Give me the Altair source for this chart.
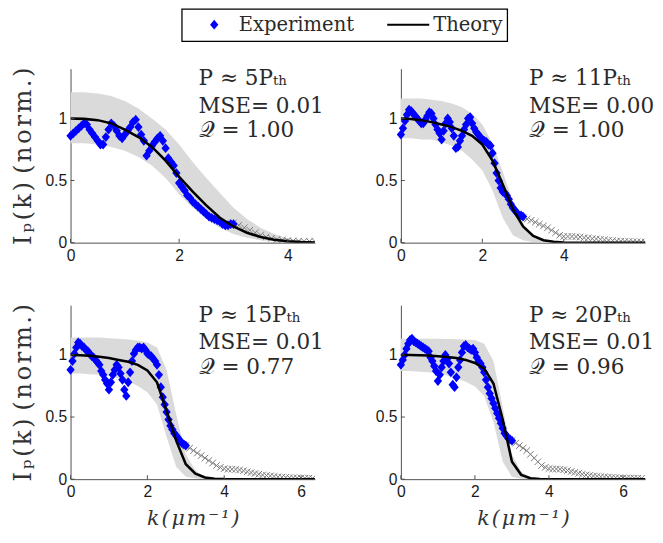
import altair as alt
import numpy as np
import pandas as pd

# ---------------- data ----------------
# Experiment (blue diamonds), k = 0 .. 3.0 step 0.05
TL_exp = [0.86, 0.88, 0.90, 0.92, 0.94, 0.96, 0.95, 0.91, 0.88, 0.85, 0.82, 0.79, 0.79, 0.85, 0.91, 0.96,
          0.94, 0.90, 0.86, 0.84, 0.87, 0.90, 0.93, 0.97, 0.99, 0.93, 0.87, 0.82, 0.70, 0.74, 0.78, 0.81,
          0.84, 0.86, 0.82, 0.76, 0.68, 0.65, 0.62, 0.56, 0.48, 0.45, 0.42, 0.38, 0.36, 0.33, 0.31, 0.29,
          0.27, 0.25, 0.23, 0.21, 0.20, 0.19, 0.18, 0.17, 0.15, 0.14, 0.14, 0.15, 0.15]
TR_exp = [0.87, 0.92, 0.98, 1.03, 1.07, 1.06, 1.04, 1.02, 1.00, 0.98, 0.96, 0.96, 0.99, 1.02, 1.05, 1.04,
          1.00, 0.95, 0.91, 0.88, 0.83, 0.90, 0.96, 1.00, 0.97, 0.92, 0.86, 0.76, 0.77, 0.82, 0.86, 0.91,
          0.95, 1.00, 1.01, 0.96, 0.92, 0.89, 0.87, 0.85, 0.83, 0.82, 0.81, 0.79, 0.78, 0.72, 0.64, 0.56,
          0.50, 0.44, 0.41, 0.40, 0.38, 0.35, 0.31, 0.28, 0.26, 0.24, 0.22, 0.22, 0.21]
BL_exp = [0.88, 0.95, 1.01, 1.06, 1.10, 1.09, 1.07, 1.06, 1.04, 1.03, 1.01, 0.99, 0.98, 0.96, 0.94, 0.92,
          0.87, 0.84, 0.80, 0.77, 0.72, 0.78, 0.84, 0.88, 0.92, 0.90, 0.85, 0.80, 0.72, 0.67, 0.78, 0.86,
          0.95, 1.01, 1.04, 1.06, 1.06, 1.05, 1.06, 1.04, 1.01, 1.00, 0.99, 0.97, 0.95, 0.92, 0.84, 0.74,
          0.66, 0.60, 0.54, 0.48, 0.43, 0.40, 0.37, 0.35, 0.33, 0.31, 0.29, 0.28, 0.27]
BR_exp = [0.92, 0.96, 1.00, 1.05, 1.09, 1.12, 1.13, 1.11, 1.10, 1.09, 1.08, 1.07, 1.06, 1.05, 1.04, 1.03,
          0.98, 0.95, 0.91, 0.87, 0.79, 0.84, 0.90, 0.95, 1.00, 0.97, 0.93, 0.86, 0.76, 0.74, 0.82, 0.90,
          0.96, 1.02, 1.07, 1.08, 1.06, 1.05, 1.04, 1.05, 1.02, 0.98, 0.95, 0.93, 0.90, 0.86, 0.80, 0.74,
          0.69, 0.65, 0.61, 0.57, 0.53, 0.49, 0.45, 0.41, 0.37, 0.35, 0.33, 0.32, 0.31]

# Experiment beyond fit range (grey crosses), k = 3.0 .. step 0.1
TL_tail = [0.16, 0.14, 0.12, 0.10, 0.08, 0.06, 0.045, 0.035, 0.025, 0.02, 0.016, 0.014, 0.012, 0.011, 0.01, 0.01]
TR_tail = [0.20, 0.19, 0.18, 0.165, 0.15, 0.135, 0.12, 0.10, 0.08, 0.06, 0.05, 0.05, 0.05, 0.048, 0.045,
           0.04, 0.037, 0.033, 0.03, 0.027, 0.023, 0.02, 0.017, 0.014, 0.012, 0.01, 0.009, 0.008, 0.007,
           0.006, 0.005]
BL_tail = [0.27, 0.25, 0.23, 0.21, 0.19, 0.17, 0.15, 0.13, 0.11, 0.095, 0.085, 0.08, 0.08, 0.078, 0.074,
           0.068, 0.06, 0.053, 0.046, 0.04, 0.034, 0.03, 0.026, 0.022, 0.019, 0.016, 0.014, 0.012, 0.011,
           0.01, 0.009, 0.008, 0.008, 0.007]
BR_tail = [0.31, 0.29, 0.27, 0.25, 0.23, 0.20, 0.17, 0.14, 0.11, 0.095, 0.085, 0.082, 0.082, 0.08, 0.076,
           0.07, 0.062, 0.055, 0.047, 0.04, 0.034, 0.03, 0.026, 0.023, 0.02, 0.018, 0.016, 0.014, 0.012,
           0.011, 0.01, 0.009, 0.009, 0.008, 0.008, 0.007]

# Theory curve, k = 0 .. step 0.25
TL_th = [1.0, 0.996, 0.986, 0.96, 0.91, 0.85, 0.77, 0.66, 0.53, 0.41, 0.30, 0.20, 0.13, 0.08, 0.045,
         0.024, 0.011, 0.005, 0.002]
TR_th = [1.0, 0.995, 0.985, 0.97, 0.95, 0.93, 0.90, 0.86, 0.79, 0.66, 0.47, 0.27, 0.13, 0.055, 0.02,
         0.007, 0.002, 0, 0, 0, 0, 0, 0, 0, 0]
BL_th = [1.0, 0.998, 0.993, 0.985, 0.975, 0.96, 0.945, 0.92, 0.875, 0.78, 0.55, 0.31, 0.12, 0.045, 0.014,
         0.004, 0.001, 0, 0, 0, 0, 0, 0, 0, 0, 0, 0]
BR_th = [1.0, 1.0, 0.998, 0.995, 0.99, 0.983, 0.975, 0.96, 0.935, 0.89, 0.77, 0.48, 0.14, 0.035, 0.008,
         0.002, 0, 0, 0, 0, 0, 0, 0, 0, 0, 0, 0, 0]

# Uncertainty band, k = 0 .. step 0.25
TL_hi = [1.21, 1.21, 1.20, 1.18, 1.14, 1.08, 1.00, 0.91, 0.79, 0.65, 0.52, 0.40, 0.28, 0.19, 0.12, 0.07,
         0.035, 0.015, 0.005]
TL_lo = [0.80, 0.80, 0.79, 0.77, 0.74, 0.69, 0.62, 0.52, 0.39, 0.28, 0.19, 0.12, 0.07, 0.04, 0.02, 0.01,
         0.005, 0.002, 0.0]
TR_hi = [1.16, 1.16, 1.16, 1.15, 1.14, 1.12, 1.09, 1.04, 0.95, 0.80, 0.57, 0.33, 0.15, 0.06, 0.02, 0.007, 0.002]
TR_lo = [0.84, 0.84, 0.83, 0.83, 0.81, 0.78, 0.74, 0.67, 0.58, 0.42, 0.20, 0.06, 0.02, 0.005, 0.0, 0.0, 0.0]
BL_hi = [1.14, 1.14, 1.14, 1.14, 1.135, 1.13, 1.125, 1.115, 1.10, 1.06, 0.88, 0.52, 0.20, 0.07, 0.02, 0.005, 0.0]
BL_lo = [0.85, 0.85, 0.845, 0.84, 0.83, 0.81, 0.79, 0.75, 0.70, 0.60, 0.34, 0.10, 0.02, 0.005, 0.0, 0.0, 0.0]
BR_hi = [1.13, 1.13, 1.13, 1.13, 1.13, 1.128, 1.127, 1.125, 1.12, 1.09, 0.95, 0.58, 0.20, 0.06, 0.015, 0.003, 0.0]
BR_lo = [0.87, 0.87, 0.865, 0.86, 0.85, 0.835, 0.815, 0.785, 0.745, 0.67, 0.46, 0.14, 0.02, 0.004, 0.0, 0.0, 0.0]

X_MAX = [4.5, 6.0, 6.36, 6.6]
X_TICKS = [[0, 2, 4], [0, 2, 4], [0, 2, 4, 6], [0, 2, 4, 6]]
Y_TICKS = [0, 0.5, 1]
P_TEXT = ["P ≈ 5Pₜₕ", "P ≈ 11Pₜₕ", "P ≈ 15Pₜₕ", "P ≈ 20Pₜₕ"]
MSE_TEXT = ["MSE= 0.01", "MSE= 0.00", "MSE= 0.01", "MSE= 0.01"]
Q_TEXT = ["𝒬 = 1.00", "𝒬 = 1.00", "𝒬 = 0.77", "𝒬 = 0.96"]
LEGEND_LABELS = ["Experiment", "Theory"]

SERIF = "DejaVu Serif"
SANS = "Liberation Sans"
W, H = 250, 178
DIAMOND = "M0,-1L0.85,0L0,1L-0.85,0Z"
XMARK = "M-1,-1L1,1M-1,1L1,-1"
HS = "\u200a"
YT = HS.join("Iₚ(k)") + " " + HS.join("(norm.)")
XT = HS.join("k(μm⁻¹)")


def grid(n, step, start=0.0):
    return np.round(start + step * np.arange(n), 4)


def legend_layers():
    box = alt.Chart(pd.DataFrame({"label": ["box"]})).mark_rect(
        fill="white", stroke="black", strokeWidth=1.3).encode(
        x=alt.value(114), x2=alt.value(447), y=alt.value(-61), y2=alt.value(-28))
    dia = alt.Chart(pd.DataFrame({"label": [LEGEND_LABELS[0]]})).mark_point(
        shape=DIAMOND, filled=True, color="#0000ff", size=100, opacity=1).encode(
        x=alt.value(147), y=alt.value(-45))
    t1 = alt.Chart(pd.DataFrame({"label": [LEGEND_LABELS[0]]})).mark_text(
        align="left", baseline="middle", font=SERIF, fontSize=20, color="#2a2a2a").encode(
        x=alt.value(172), y=alt.value(-45), text="label:N")
    ln = alt.Chart(pd.DataFrame({"label": [LEGEND_LABELS[1]]})).mark_rule(
        color="black", strokeWidth=2.2).encode(x=alt.value(324), x2=alt.value(367), y=alt.value(-45))
    t2 = alt.Chart(pd.DataFrame({"label": [LEGEND_LABELS[1]]})).mark_text(
        align="left", baseline="middle", font=SERIF, fontSize=20, color="#2a2a2a").encode(
        x=alt.value(371), y=alt.value(-45), text="label:N")
    return [box, dia, t1, ln, t2]


def make_panel(i, exp_v, tail_v, th_v, hi_v, lo_v, ytitle, xtitle, extra=()):
    exp_df = pd.DataFrame({"k": grid(len(exp_v), 0.05), "v": exp_v})
    tail_df = pd.DataFrame({"k": grid(len(tail_v), 0.1, 3.0), "v": tail_v})
    th_df = pd.DataFrame({"k": grid(len(th_v), 0.25), "v": th_v})
    band_df = pd.DataFrame({"k": grid(len(hi_v), 0.25), "lo": lo_v, "hi": hi_v})
    xt_df = pd.DataFrame({"k": X_TICKS[i]})
    yt_df = pd.DataFrame({"v": Y_TICKS})

    xaxis = alt.Axis(values=X_TICKS[i], grid=False, ticks=False, labelPadding=5,
                     labelFont=SANS, labelFontSize=16, labelColor="#1a1a1a",
                     domainColor="#4d4d4d", titleFont=SERIF, titleFontSize=21,
                     titleFontWeight="normal", titleFontStyle="italic", titleColor="#333333",
                     titlePadding=8, labelFlush=False)
    yaxis = alt.Axis(values=Y_TICKS, format="~g", grid=False, ticks=False, labelPadding=4,
                     labelFont=SANS, labelFontSize=16, labelColor="#1a1a1a",
                     domainColor="#4d4d4d", titleFont=SERIF, titleFontSize=25,
                     titleFontWeight="normal", titleColor="#333333", titlePadding=10,
                     labelFlush=False)
    xs = alt.Scale(domain=[0, X_MAX[i]], nice=False, zero=False)
    ys = alt.Scale(domain=[0, 1.4], nice=False)
    X = alt.X("k:Q", scale=xs, axis=xaxis, title=xtitle)
    Y = alt.Y("v:Q", scale=ys, axis=yaxis, title=ytitle)

    band = alt.Chart(band_df).mark_area(color="#dadada", clip=True).encode(
        x=X, y=alt.Y("lo:Q", scale=ys, axis=yaxis, title=ytitle), y2="hi:Q")
    tail = alt.Chart(tail_df).mark_point(shape=XMARK, filled=False, color="#7a7a7a",
                                         size=45, strokeWidth=1.0, opacity=1,
                                         clip=True).encode(x=X, y=Y)
    exp = alt.Chart(exp_df).mark_point(shape=DIAMOND, filled=True, color="#0000ff",
                                       size=100, opacity=1).encode(x=X, y=Y)
    th = alt.Chart(th_df).mark_line(color="black", strokeWidth=2.6, clip=True).encode(x=X, y=Y)
    xticks = alt.Chart(xt_df).mark_rule(color="#4d4d4d", strokeWidth=1).encode(
        x=X, y=alt.value(H), y2=alt.value(H - 4))
    yticks = alt.Chart(yt_df).mark_rule(color="#4d4d4d", strokeWidth=1).encode(
        y=Y, x=alt.value(0), x2=alt.value(4))

    def txt(s, ypix):
        return alt.Chart(pd.DataFrame({"t": [s]})).mark_text(
            align="left", baseline="alphabetic", font=SERIF, fontSize=22, color="#2a2a2a"
        ).encode(x=alt.value(131), y=alt.value(ypix), text="t:N")

    return alt.layer(band, tail, exp, th, xticks, yticks,
                     txt(P_TEXT[i], 17), txt(MSE_TEXT[i], 45), txt(Q_TEXT[i], 70),
                     *extra).properties(width=W, height=H)


tl = make_panel(0, TL_exp, TL_tail, TL_th, TL_hi, TL_lo, YT, None, extra=legend_layers())
tr = make_panel(1, TR_exp, TR_tail, TR_th, TR_hi, TR_lo, None, None)
bl = make_panel(2, BL_exp, BL_tail, BL_th, BL_hi, BL_lo, YT, XT)
br = make_panel(3, BR_exp, BR_tail, BR_th, BR_hi, BR_lo, None, XT)

chart = alt.concat(tl, tr, bl, br, columns=2, bounds="flush",
                   spacing={"row": 64, "column": 88}).properties(
    padding={"left": 2, "top": -6, "right": 0, "bottom": 0}
).configure_view(strokeWidth=0)

chart.save("out.html", embed_options={"renderer": "svg", "actions": False})
